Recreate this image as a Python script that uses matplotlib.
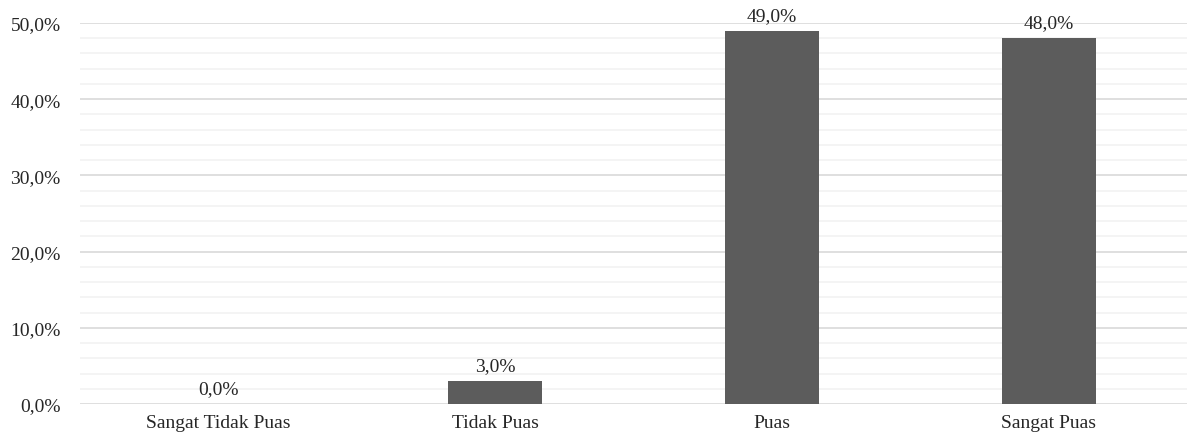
import matplotlib
matplotlib.use("Agg")
import matplotlib.pyplot as plt
from matplotlib.ticker import FuncFormatter, MultipleLocator

categories = ["Sangat Tidak Puas", "Tidak Puas", "Puas", "Sangat Puas"]
values = [0.0, 3.0, 49.0, 48.0]
y_ticks = [0, 10, 20, 30, 40, 50]

plt.rcParams["font.family"] = ["Liberation Serif", "DejaVu Serif"]

fig = plt.figure(figsize=(11.87, 4.39), dpi=100)
ax = fig.add_axes([80 / 1187, 1 - 405 / 439, (1187 - 80) / 1187, (405 - 24) / 439])

x = list(range(len(categories)))
bars = ax.bar(x, values, width=0.34, color="#5c5c5c", zorder=3)

for xi, v in zip(x, values):
    ax.annotate(f"{v:.1f}%".replace(".", ","), (xi, v), xytext=(0, 5),
                textcoords="offset points", ha="center", va="bottom",
                fontsize=14, color="#262626")

ax.set_xlim(-0.5, len(categories) - 0.5)
ax.set_ylim(0, 50)
ax.set_yticks(y_ticks)
ax.yaxis.set_minor_locator(MultipleLocator(2))
ax.yaxis.set_major_formatter(FuncFormatter(lambda v, p: f"{v:.1f}%".replace(".", ",")))
ax.set_xticks(x)
ax.set_xticklabels(categories)

ax.grid(axis="y", which="major", color="#d9d9d9", linewidth=1.2, zorder=0)
ax.grid(axis="y", which="minor", color="#f2f2f2", linewidth=1.2, zorder=0)
ax.tick_params(axis="both", which="both", length=0, labelsize=14, colors="#262626")
ax.tick_params(axis="y", pad=14)
ax.tick_params(axis="x", pad=7)
for s in ax.spines.values():
    s.set_visible(False)
ax.set_axisbelow(True)

fig.savefig("out.png", dpi=100)
